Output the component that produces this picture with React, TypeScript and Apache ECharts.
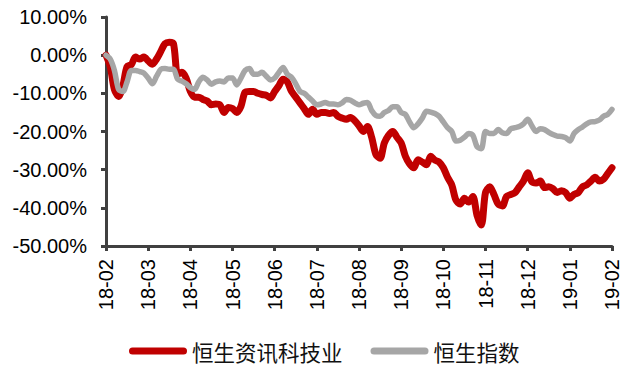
import React, { useEffect, useRef } from "react";
import * as echarts from "echarts";

// Month tick labels, Feb 2018 – Feb 2019
const monthLabels = [
  "18-02", "18-03", "18-04", "18-05", "18-06", "18-07", "18-08",
  "18-09", "18-10", "18-11", "18-12", "19-01", "19-02",
];

// Samples per month along the x axis
const STEPS_PER_MONTH = 10;

// Cumulative return (%) of the Hang Seng IT index
const techReturns = [
  0, -3, -9, -10.8, -8, -3, -2.5, -0.5, -1, -0.5,
  -1.5, -2.4, -1, 1, 3, 3.4, 3, -5, -4.5, -6,
  -9.5, -11, -11, -11.6, -12, -13, -12.8, -13, -15, -13.7,
  -14, -15, -13.4, -9.7, -9.5, -9.5, -10, -10.3, -10.5, -11.2,
  -9.5, -8, -6.3, -7, -9.5, -11, -12.5, -14, -15.5, -14.2,
  -15.5, -15, -15, -15.3, -15, -16, -16.5, -16.8, -16.3, -17.2,
  -18.5, -20, -18.7, -21.5, -26, -27, -23, -21, -20, -21.5,
  -23, -26.5, -28.5, -29.5, -27.4, -28, -28.7, -26.5, -27.5, -28,
  -29.5, -32, -34, -38, -39, -37.5, -38.5, -37, -42, -44.5,
  -36, -34.5, -36.5, -39, -39.5, -37, -36.5, -36, -34.5, -33,
  -30.8, -33.2, -33.5, -33, -34.7, -34.5, -35, -36, -35.5, -36,
  -37.5, -36.5, -36, -34.5, -34, -33, -32, -33, -32.5, -31,
  -29.5,
];

// Cumulative return (%) of the Hang Seng Index
const hsiReturns = [
  0, -1, -4, -9, -9.5, -7, -4, -4, -4.3, -4.7,
  -6, -7.5, -5.5, -3.7, -3.5, -3.7, -3.7, -6.3, -6.8, -7.5,
  -8.5, -9, -7, -5.8, -6.5, -7.6, -7, -6.8, -7, -6,
  -6, -7.8, -6, -4, -3.5, -5, -5, -4.5, -5.5, -6.5,
  -6, -4.5, -3.2, -5, -5.8, -7.5, -9.5, -10, -11, -12,
  -13, -12.8, -12.4, -12.8, -12.8, -13, -12.5, -11.6, -11.8, -12.5,
  -13, -12.6, -12.4, -14.5, -15.8, -16, -15, -14.5, -13.5, -13.5,
  -15, -15.5, -17.5, -19, -18, -16.5, -14.7, -14.9, -15.3, -16,
  -17.5, -19, -20, -22.5, -22.3, -21.5, -20.5, -21, -24, -24.5,
  -20, -20.5, -20.5, -19.5, -20.3, -20.5, -19.3, -19, -18.7, -18,
  -16.8, -18.5, -20, -19.3, -19.5, -20.2, -20.8, -21.2, -21.3, -21.6,
  -22.5, -20.5, -19.5, -18.8, -18, -17.5, -17.4, -17, -16, -15.5,
  -14.2,
];

const seriesNames = ["恒生资讯科技业", "恒生指数"];

const toPoints = (vals: number[]) =>
  vals.map((v, i) => [i / STEPS_PER_MONTH, v]);

const pill = "path://M3.5,0 H54.5 A3.5,3.5 0 0 1 54.5,7 H3.5 A3.5,3.5 0 0 1 3.5,0 Z";

export default function App() {
  const ref = useRef<HTMLDivElement>(null);

  useEffect(() => {
    if (!ref.current) return;
    const chart = echarts.init(ref.current, undefined, { renderer: "svg" });
    const axisColor = "#404040";
    const labelFont = "'Liberation Sans', Arial, sans-serif";

    chart.setOption({
      animation: false,
      grid: { left: 106, right: 8, top: 17, bottom: 119, containLabel: false },
      legend: {
        left: 129,
        top: 336,
        padding: 0,
        itemWidth: 58,
        itemHeight: 7,
        itemGap: 28,
        textStyle: {
          fontSize: 21.5,
          lineHeight: 30,
          color: "#111",
          fontFamily: "'Noto Sans CJK SC', sans-serif",
        },
        data: [
          { name: seriesNames[0], icon: pill },
          { name: seriesNames[1], icon: pill },
        ],
      },
      xAxis: {
        type: "value",
        min: 0,
        max: monthLabels.length - 1,
        interval: 1,
        axisLine: { show: true, onZero: false, lineStyle: { color: axisColor, width: 3 } },
        axisTick: { show: true, length: 5, lineStyle: { color: axisColor, width: 3 } },
        splitLine: { show: false },
        axisLabel: {
          rotate: 90,
          margin: 13,
          fontSize: 20,
          color: "#000",
          fontFamily: labelFont,
          formatter: (v: number) => monthLabels[Math.round(v)] ?? "",
        },
      },
      yAxis: {
        type: "value",
        min: -50,
        max: 10,
        interval: 10,
        axisLine: { show: true, lineStyle: { color: axisColor, width: 3 } },
        axisTick: { show: true, length: 5, lineStyle: { color: axisColor, width: 3 } },
        splitLine: { show: false },
        axisLabel: {
          margin: 19,
          fontSize: 20,
          color: "#000",
          fontFamily: labelFont,
          formatter: (v: number) => v.toFixed(2) + "%",
        },
      },
      series: [
        {
          name: seriesNames[0],
          type: "line",
          data: toPoints(techReturns),
          showSymbol: false,
          symbol: "none",
          smooth: 0.3,
          itemStyle: { color: "#C00000" },
          lineStyle: { color: "#C00000", width: 7, cap: "round", join: "round" },
        },
        {
          name: seriesNames[1],
          type: "line",
          data: toPoints(hsiReturns),
          showSymbol: false,
          symbol: "none",
          smooth: 0.3,
          itemStyle: { color: "#A6A6A6" },
          lineStyle: { color: "#A6A6A6", width: 5.5, cap: "round", join: "round" },
        },
      ],
    });

    return () => chart.dispose();
  }, []);

  return (
    <div
      ref={ref}
      style={{ position: "absolute", left: 0, top: 0, width: 622, height: 365, background: "#fff" }}
    />
  );
}
